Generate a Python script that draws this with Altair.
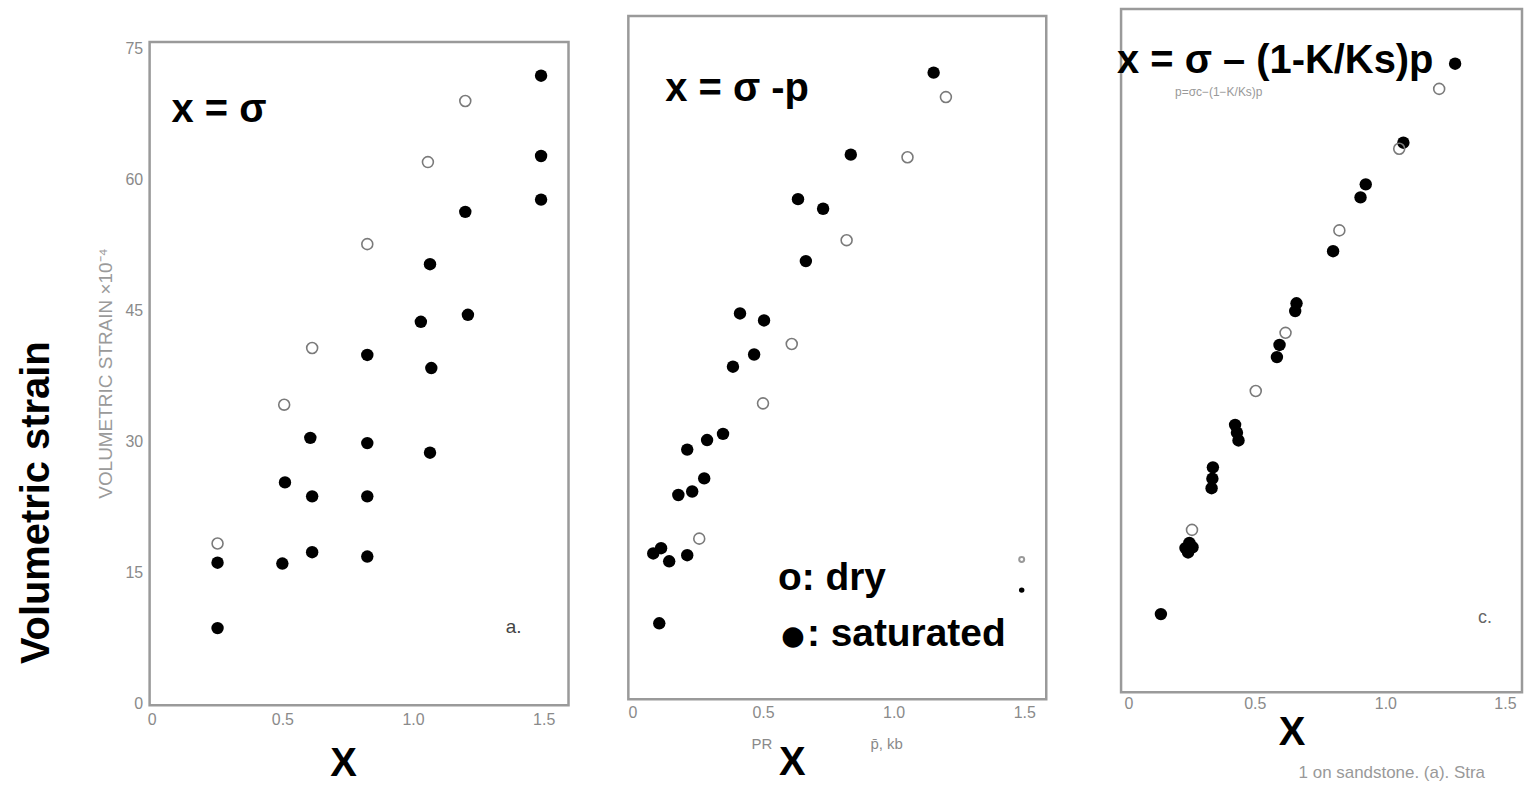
import altair as alt
import pandas as pd

FONT = "Liberation Sans"
GREY = "#8a8a8a"

# ---- Panel a: x = sigma ----
a_sat_x = [1.49, 1.49, 1.49, 1.20, 1.065, 1.03, 1.21, 0.825, 1.07, 0.607,
           0.825, 1.065, 0.51, 0.614, 0.825, 0.614, 0.825, 0.252, 0.50, 0.252]
a_sat_y = [71.9, 62.7, 57.7, 56.3, 50.3, 43.7, 44.5, 39.9, 38.4, 30.4,
           29.8, 28.7, 25.3, 23.7, 23.7, 17.3, 16.8, 16.1, 16.0, 8.6]
a_dry_x = [1.20, 1.057, 0.825, 0.614, 0.507, 0.252]
a_dry_y = [69.0, 62.0, 52.6, 40.7, 34.2, 18.3]

# ---- Panel b: x = sigma - p ----
b_sat_x = [1.153, 0.836, 0.634, 0.73, 0.664, 0.412, 0.504, 0.466, 0.385, 0.347,
           0.286, 0.21, 0.275, 0.229, 0.176, 0.21, 0.08, 0.11, 0.141, 0.103]
b_sat_y = [71.8, 62.4, 57.3, 56.2, 50.2, 44.2, 43.4, 39.5, 38.1, 30.4,
           29.7, 28.6, 25.3, 23.8, 23.4, 16.5, 16.7, 17.3, 15.8, 8.7]
b_dry_x = [1.20, 1.053, 0.82, 0.61, 0.50, 0.256]
b_dry_y = [69.0, 62.1, 52.6, 40.7, 33.9, 18.4]
b_frag_x = [1.49]          # scan fragments at the right edge
b_frag_sat_y = [12.5]
b_frag_dry_y = [16.0]

# ---- Panel c: x = sigma - (1-K/Ks)p ----
c_sat_x = [1.267, 1.069, 0.925, 0.905, 0.80, 0.66, 0.655, 0.595, 0.585, 0.425,
           0.432, 0.438, 0.34, 0.338, 0.335, 0.235, 0.25, 0.262, 0.245, 0.141]
c_sat_y = [72.4, 63.3, 58.5, 57.0, 50.8, 44.8, 43.9, 40.0, 38.6, 30.8,
           29.9, 29.0, 25.9, 24.6, 23.5, 16.6, 17.2, 16.7, 16.1, 9.0]
c_dry_x = [1.206, 1.053, 0.824, 0.618, 0.504, 0.26]
c_dry_y = [69.5, 62.6, 53.2, 41.4, 34.7, 18.7]

x_ticks = [0, 0.5, 1.0, 1.5]
y_ticks = [0, 15, 30, 45, 60, 75]

one = pd.DataFrame({"k": [0]})


def df(xs, ys):
    return pd.DataFrame({"x": xs, "y": ys})


def xaxis(title_x, title_y, pad, flush=False):
    return alt.Axis(values=x_ticks,
                    labelExpr="datum.value == 0 ? '0' : format(datum.value, '.1f')",
                    labelFont=FONT, labelFontSize=16, labelColor=GREY,
                    labelPadding=pad, labelFlush=flush, ticks=False,
                    domain=False, grid=False,
                    title="X", titleFont=FONT, titleFontSize=40,
                    titleFontWeight="bold", titleColor="black",
                    titleX=title_x, titleY=title_y, titleAlign="center",
                    titleBaseline="alphabetic")


def points(sat, dry, X, Y):
    s = alt.Chart(sat).mark_circle(size=155, color="black", opacity=1).encode(x=X, y=Y)
    d = alt.Chart(dry).mark_point(shape="circle", filled=False, size=120,
                                  stroke="#7a7a7a", strokeWidth=1.6,
                                  opacity=1).encode(x=X, y=Y)
    return [s, d]


def label(text, x, y, size=40, weight="bold", color="black", align="left",
          baseline="alphabetic", angle=0):
    return alt.Chart(one).mark_text(text=text, font=FONT, fontSize=size,
                                    fontWeight=weight, color=color, align=align,
                                    baseline=baseline, angle=angle).encode(x=x, y=y)


def spacer(w, h):
    return alt.Chart(one).mark_point(opacity=0, size=1, strokeWidth=0).encode(
        x=alt.value(w / 2), y=alt.value(h / 2)
    ).properties(width=w, height=h, view=alt.ViewBackground(strokeOpacity=0))


# ---------- Panel 1 ----------
X1 = alt.X("x:Q", scale=alt.Scale(domain=[-0.008, 1.595], nice=False, zero=False),
           axis=xaxis(194, 71, 6))
Y1 = alt.Y("y:Q", scale=alt.Scale(domain=[-0.23, 75.77], nice=False, zero=False),
           axis=alt.Axis(values=y_ticks, labelFont=FONT, labelFontSize=16,
                         labelColor=GREY, labelPadding=7, ticks=False,
                         domain=False, grid=False,
                         title="VOLUMETRIC STRAIN ×10⁻⁴", titleFont=FONT,
                         titleFontSize=19, titleFontWeight="normal",
                         titleColor="#9a9a9a", titleX=-44, titleY=332,
                         titleAngle=270, titleAlign="center",
                         titleBaseline="middle"))
p1 = alt.layer(
    *points(df(a_sat_x, a_sat_y), df(a_dry_x, a_dry_y), X1, Y1),
    label("x = σ", alt.datum(0.076), alt.datum(66.6)),
    label("a.", alt.datum(1.355), alt.datum(8.0), size=19, weight="normal",
          color="#444"),
    label("Volumetric strain", alt.value(-113), alt.value(462), align="center",
          baseline="middle", angle=270),
).properties(width=420, height=665)

# ---------- Panel 2 ----------
X2 = alt.X("x:Q", scale=alt.Scale(domain=[-0.0153, 1.584], nice=False, zero=False),
           axis=xaxis(164, 76, 5))
Y2 = alt.Y("y:Q", scale=alt.Scale(domain=[0, 78.29], nice=False, zero=False), axis=None)
p2 = alt.layer(
    *points(df(b_sat_x, b_sat_y), df(b_dry_x, b_dry_y), X2, Y2),
    alt.Chart(df(b_frag_x, b_frag_sat_y)).mark_circle(size=30, color="black",
                                                       opacity=1).encode(x=X2, y=Y2),
    alt.Chart(df(b_frag_x, b_frag_dry_y)).mark_point(shape="circle", filled=False,
                                                      size=25, stroke="#999",
                                                      opacity=1).encode(x=X2, y=Y2),
    label("x = σ -p", alt.datum(0.126), alt.datum(68.6)),
    label("o: dry", alt.datum(0.557), alt.datum(12.57), size=39),
    label("●", alt.datum(0.615), alt.datum(5.54), size=48, align="center"),
    label(": saturated", alt.datum(0.668), alt.datum(6.06), size=39),
    label("PR", alt.value(134), alt.value(735), size=15, weight="normal",
          color=GREY, align="center"),
    label("p̄, kb", alt.value(259), alt.value(735), size=15, weight="normal",
          color=GREY, align="center"),
).properties(width=419, height=685)

# ---------- Panel 3 ----------
X3 = alt.X("x:Q", scale=alt.Scale(domain=[-0.0115, 1.523], nice=False, zero=False),
           axis=xaxis(171, 52, 3, flush=10))
Y3 = alt.Y("y:Q", scale=alt.Scale(domain=[0, 78.7], nice=False, zero=False), axis=None)
p3 = alt.layer(
    *points(df(c_sat_x, c_sat_y), df(c_dry_x, c_dry_y), X3, Y3),
    label("x = σ – (1-K/Ks)p", alt.datum(-0.027), alt.datum(71.3)),
    label("p=σc−(1−K/Ks)p", alt.datum(0.195), alt.datum(68.7), size=12,
          weight="normal", color="#999"),
    label("c.", alt.datum(1.355), alt.datum(8.0), size=18, weight="normal",
          color="#666"),
    label("1 on sandstone.  (a).  Stra", alt.value(178), alt.value(771), size=17,
          weight="normal", color="#999"),
).properties(width=402, height=685)

col1 = alt.vconcat(spacer(420, 30), p1, spacing=0)
col2 = alt.vconcat(spacer(419, 5), p2, spacing=0)
inner = alt.hconcat(col2, p3, spacing=67)
chart = alt.hconcat(col1, inner, spacing=56).properties(
    padding={"left": 15, "top": 6, "right": 0, "bottom": 0},
    background="white",
).configure_view(stroke="#9a9a9a", strokeWidth=2.5)

chart.save("out.html", embed_options={"renderer": "svg", "actions": False})
